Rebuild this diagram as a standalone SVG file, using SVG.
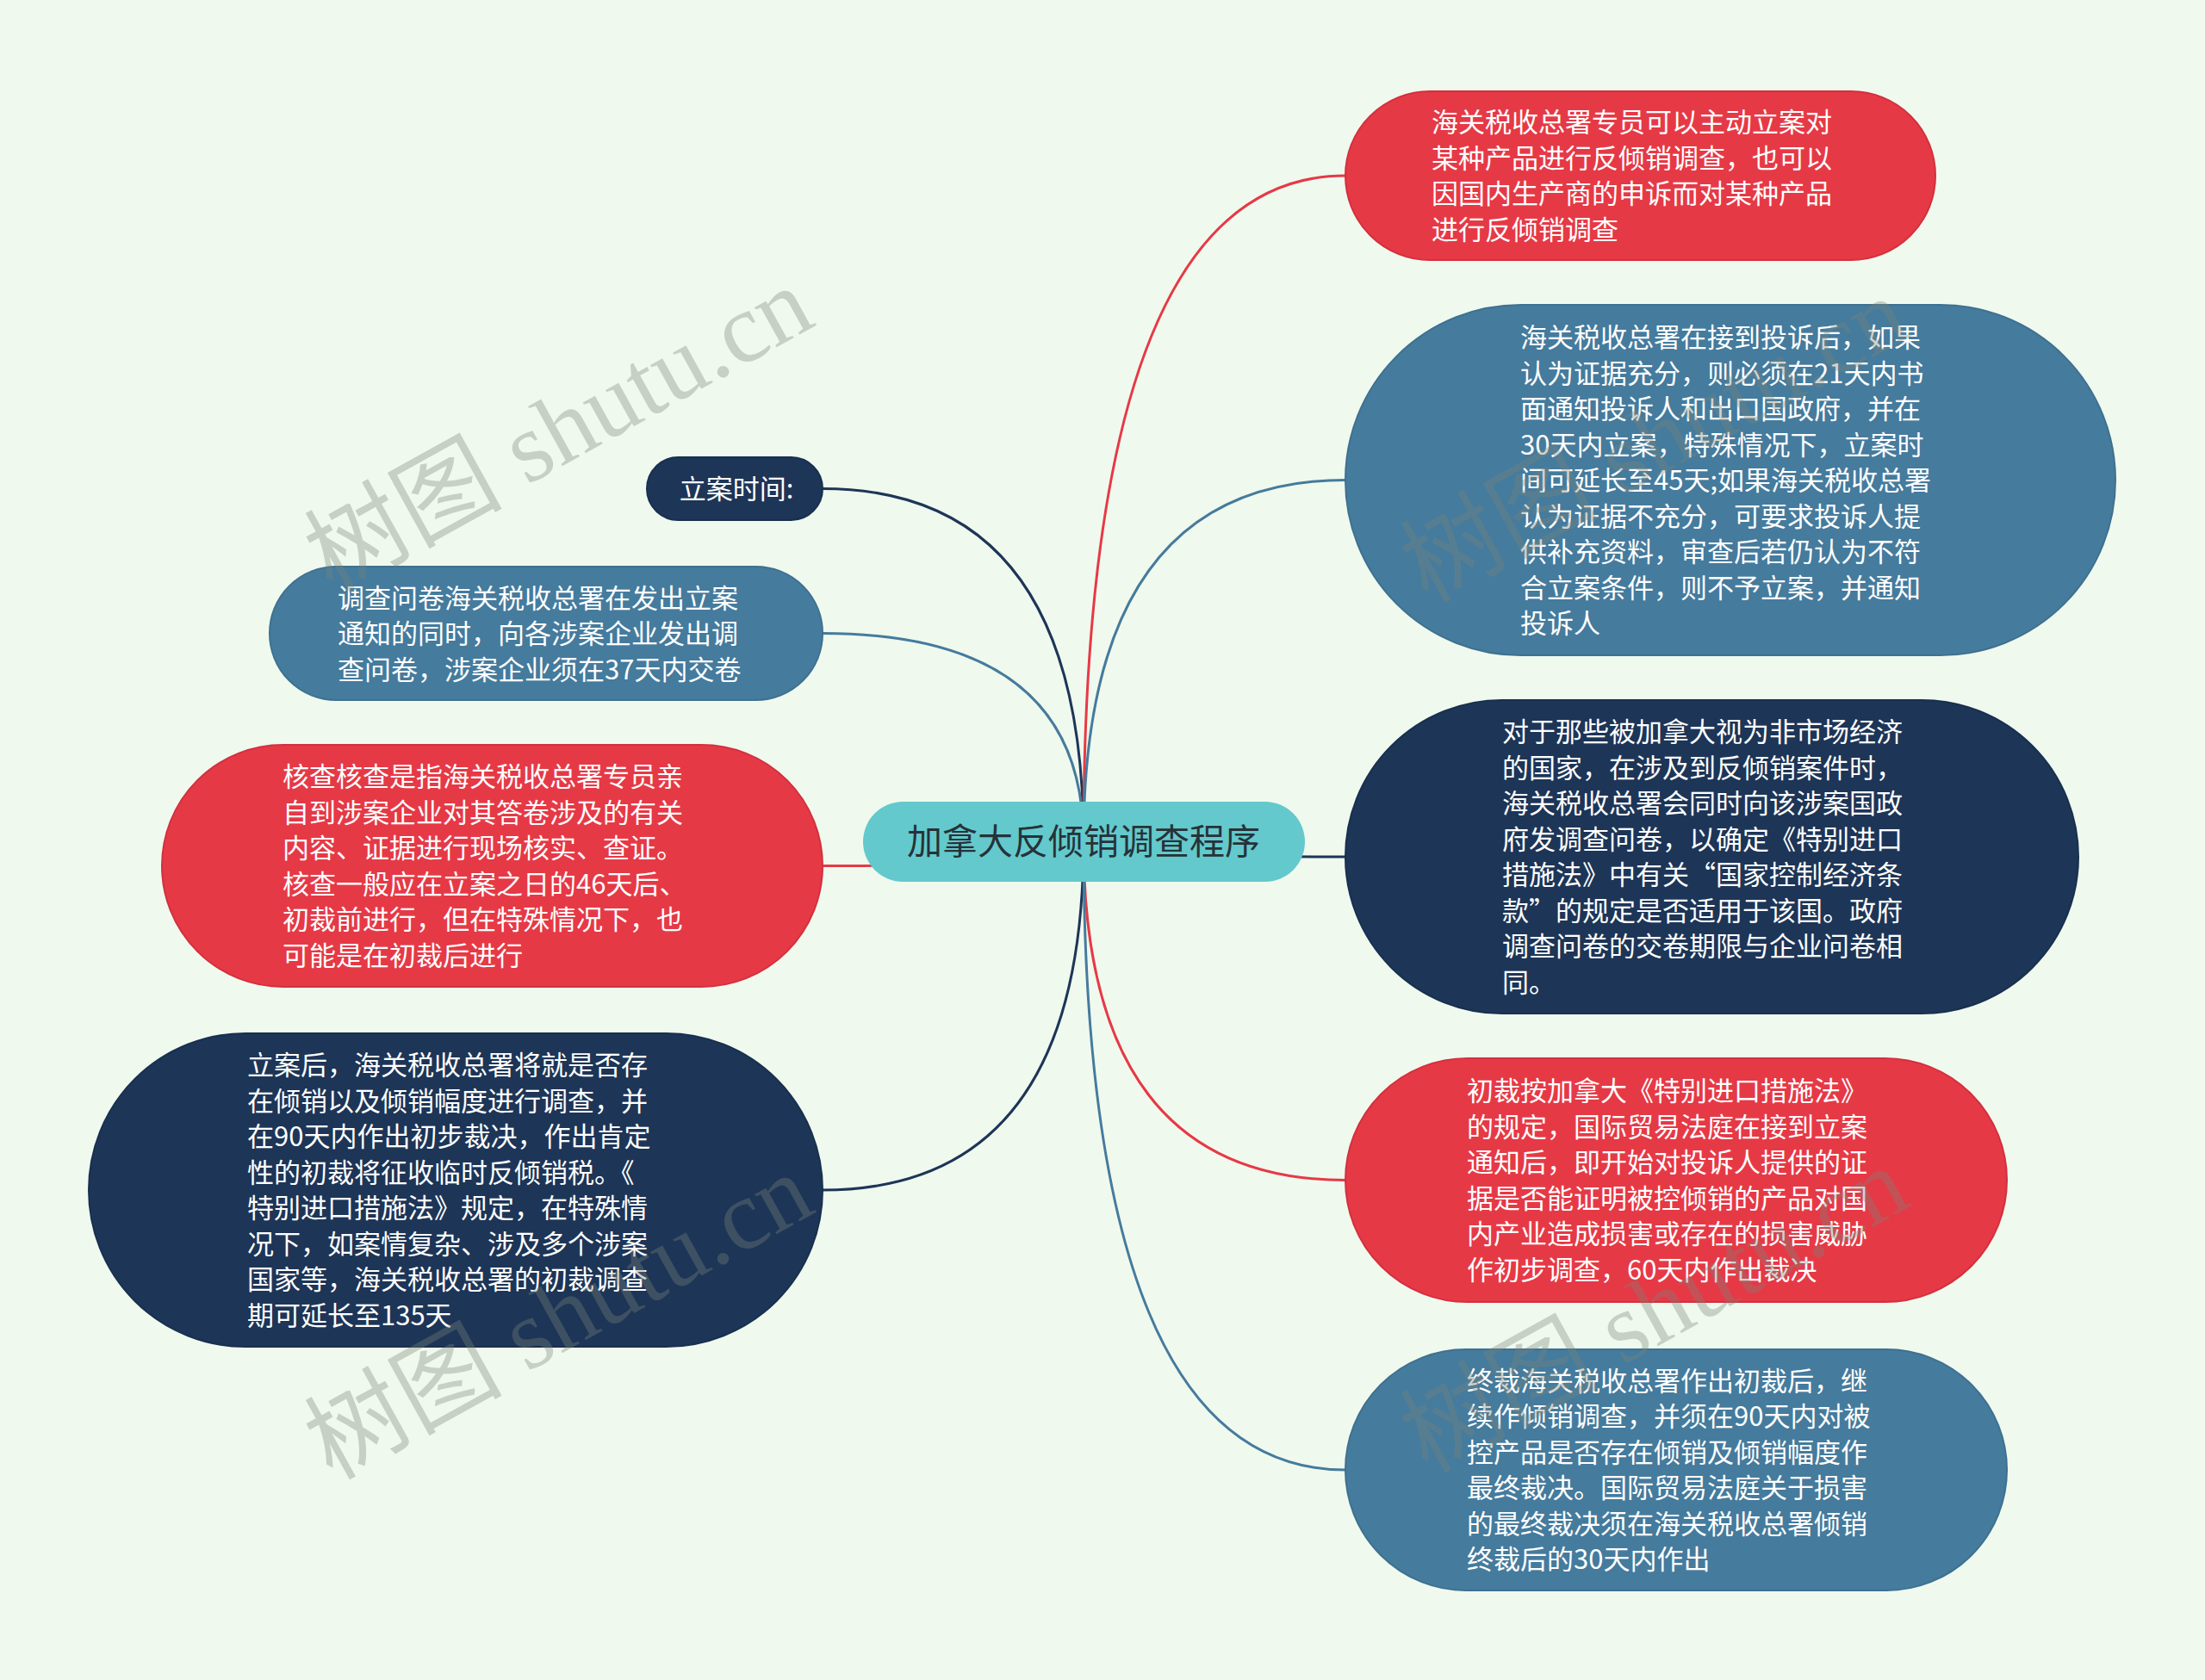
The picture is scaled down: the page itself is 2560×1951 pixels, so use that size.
<svg xmlns="http://www.w3.org/2000/svg" width="2560" height="1951" viewBox="0 0 2560 1951">
<style>
.bg{fill:#f0f9ee}
.red{fill:#e63946;stroke:#d3303e;stroke-width:2}
.blue{fill:#457b9d;stroke:#3e7190;stroke-width:2}
.navy{fill:#1d3557;stroke:#18304f;stroke-width:2}
.root{fill:#63c9cc}
.t{font-family:"Noto Sans CJK SC","Noto Sans",sans-serif;font-size:31px;fill:#ffffff}
.rt{font-family:"Noto Sans CJK SC","Noto Sans",sans-serif;font-size:41px;fill:#263238}
.c{fill:none;stroke-width:3}
.cr{stroke:#e63946}
.cb{stroke:#457b9d}
.cn{stroke:#1d3557}
.wm{font-family:"Liberation Serif","Noto Sans CJK SC",serif;font-size:115px;fill:#7a857a;opacity:0.35}
</style>
<rect class="bg" x="0" y="0" width="2560" height="1951"/>
<g id="connectors">
<path class="c cn" d="M1258 977 Q1258 567.5 955 567.5"/>
<path class="c cb" d="M1258 977 Q1258 735.5 955 735.5"/>
<path class="c cr" d="M1258 977 Q1258 1005.5 955 1005.5"/>
<path class="c cn" d="M1258 977 Q1258 1382 955 1382"/>
<path class="c cr" d="M1258 977 Q1258 204 1562 204"/>
<path class="c cb" d="M1258 977 Q1258 557.5 1562 557.5"/>
<path class="c cn" d="M1258 977 Q1258 995 1562 995"/>
<path class="c cr" d="M1258 977 Q1258 1370.5 1562 1370.5"/>
<path class="c cb" d="M1258 977 Q1258 1707 1562 1707"/>
</g>
<g id="root">
<rect class="root" x="1002" y="931" width="513" height="93" rx="46.5"/>
<text class="rt" x="1258" y="992" text-anchor="middle">加拿大反倾销调查程序</text>
</g>
<g id="n-l1">
<rect class="navy" x="751" y="531" width="204" height="73" rx="36.5"/>
<text class="t" x="855" y="579" text-anchor="middle">立案时间:</text>
</g>
<g id="n-l2">
<rect class="blue" x="313" y="658" width="642" height="155" rx="77.5"/>
<text class="t" x="392" y="705.5"><tspan x="392">调查问卷海关税收总署在发出立案</tspan><tspan x="392" dy="41.5">通知的同时，向各涉案企业发出调</tspan><tspan x="392" dy="41.5">查问卷，涉案企业须在37天内交卷</tspan></text>
</g>
<g id="n-l3">
<rect class="red" x="188" y="865" width="767" height="281" rx="140.5"/>
<text class="t" x="328" y="913.2"><tspan x="328">核查核查是指海关税收总署专员亲</tspan><tspan x="328" dy="41.5">自到涉案企业对其答卷涉及的有关</tspan><tspan x="328" dy="41.5">内容、证据进行现场核实、查证。</tspan><tspan x="328" dy="41.5">核查一般应在立案之日的46天后、</tspan><tspan x="328" dy="41.5">初裁前进行，但在特殊情况下，也</tspan><tspan x="328" dy="41.5">可能是在初裁后进行</tspan></text>
</g>
<g id="n-l4">
<rect class="navy" x="103" y="1200" width="852" height="364" rx="182"/>
<text class="t" x="287" y="1248.2"><tspan x="287">立案后，海关税收总署将就是否存</tspan><tspan x="287" dy="41.5">在倾销以及倾销幅度进行调查，并</tspan><tspan x="287" dy="41.5">在90天内作出初步裁决，作出肯定</tspan><tspan x="287" dy="41.5">性的初裁将征收临时反倾销税。《</tspan><tspan x="287" dy="41.5">特别进口措施法》规定，在特殊情</tspan><tspan x="287" dy="41.5">况下，如案情复杂、涉及多个涉案</tspan><tspan x="287" dy="41.5">国家等，海关税收总署的初裁调查</tspan><tspan x="287" dy="41.5">期可延长至135天</tspan></text>
</g>
<g id="n-r1">
<rect class="red" x="1562" y="106" width="685" height="196" rx="98"/>
<text class="t" x="1662" y="153.2"><tspan x="1662">海关税收总署专员可以主动立案对</tspan><tspan x="1662" dy="41.5">某种产品进行反倾销调查，也可以</tspan><tspan x="1662" dy="41.5">因国内生产商的申诉而对某种产品</tspan><tspan x="1662" dy="41.5">进行反倾销调查</tspan></text>
</g>
<g id="n-r2">
<rect class="blue" x="1562" y="354" width="894" height="407" rx="203.5"/>
<text class="t" x="1765" y="403"><tspan x="1765">海关税收总署在接到投诉后，如果</tspan><tspan x="1765" dy="41.5">认为证据充分，则必须在21天内书</tspan><tspan x="1765" dy="41.5">面通知投诉人和出口国政府，并在</tspan><tspan x="1765" dy="41.5">30天内立案，特殊情况下，立案时</tspan><tspan x="1765" dy="41.5">间可延长至45天;如果海关税收总署</tspan><tspan x="1765" dy="41.5">认为证据不充分，可要求投诉人提</tspan><tspan x="1765" dy="41.5">供补充资料，审查后若仍认为不符</tspan><tspan x="1765" dy="41.5">合立案条件，则不予立案，并通知</tspan><tspan x="1765" dy="41.5">投诉人</tspan></text>
</g>
<g id="n-r3">
<rect class="navy" x="1562" y="813" width="851" height="364" rx="182"/>
<text class="t" x="1744" y="861.2"><tspan x="1744">对于那些被加拿大视为非市场经济</tspan><tspan x="1744" dy="41.5">的国家，在涉及到反倾销案件时，</tspan><tspan x="1744" dy="41.5">海关税收总署会同时向该涉案国政</tspan><tspan x="1744" dy="41.5">府发调查问卷，以确定《特别进口</tspan><tspan x="1744" dy="41.5">措施法》中有关“国家控制经济条</tspan><tspan x="1744" dy="41.5">款”的规定是否适用于该国。政府</tspan><tspan x="1744" dy="41.5">调查问卷的交卷期限与企业问卷相</tspan><tspan x="1744" dy="41.5">同。</tspan></text>
</g>
<g id="n-r4">
<rect class="red" x="1562" y="1229" width="768" height="283" rx="141.5"/>
<text class="t" x="1703" y="1278.2"><tspan x="1703">初裁按加拿大《特别进口措施法》</tspan><tspan x="1703" dy="41.5">的规定，国际贸易法庭在接到立案</tspan><tspan x="1703" dy="41.5">通知后，即开始对投诉人提供的证</tspan><tspan x="1703" dy="41.5">据是否能证明被控倾销的产品对国</tspan><tspan x="1703" dy="41.5">内产业造成损害或存在的损害威胁</tspan><tspan x="1703" dy="41.5">作初步调查，60天内作出裁决</tspan></text>
</g>
<g id="n-r5">
<rect class="blue" x="1562" y="1567" width="768" height="280" rx="140"/>
<text class="t" x="1703" y="1614.7"><tspan x="1703">终裁海关税收总署作出初裁后，继</tspan><tspan x="1703" dy="41.5">续作倾销调查，并须在90天内对被</tspan><tspan x="1703" dy="41.5">控产品是否存在倾销及倾销幅度作</tspan><tspan x="1703" dy="41.5">最终裁决。国际贸易法庭关于损害</tspan><tspan x="1703" dy="41.5">的最终裁决须在海关税收总署倾销</tspan><tspan x="1703" dy="41.5">终裁后的30天内作出</tspan></text>
</g>
<g id="watermarks">
<text class="wm" x="648" y="538" text-anchor="middle" transform="rotate(-29 648 498)">树图 shutu.cn</text>
<text class="wm" x="1920" y="550" text-anchor="middle" transform="rotate(-29 1920 510)">树图 shutu.cn</text>
<text class="wm" x="648" y="1568" text-anchor="middle" transform="rotate(-29 648 1528)">树图 shutu.cn</text>
<text class="wm" x="1920" y="1560" text-anchor="middle" transform="rotate(-29 1920 1520)">树图 shutu.cn</text>
</g>
</svg>
